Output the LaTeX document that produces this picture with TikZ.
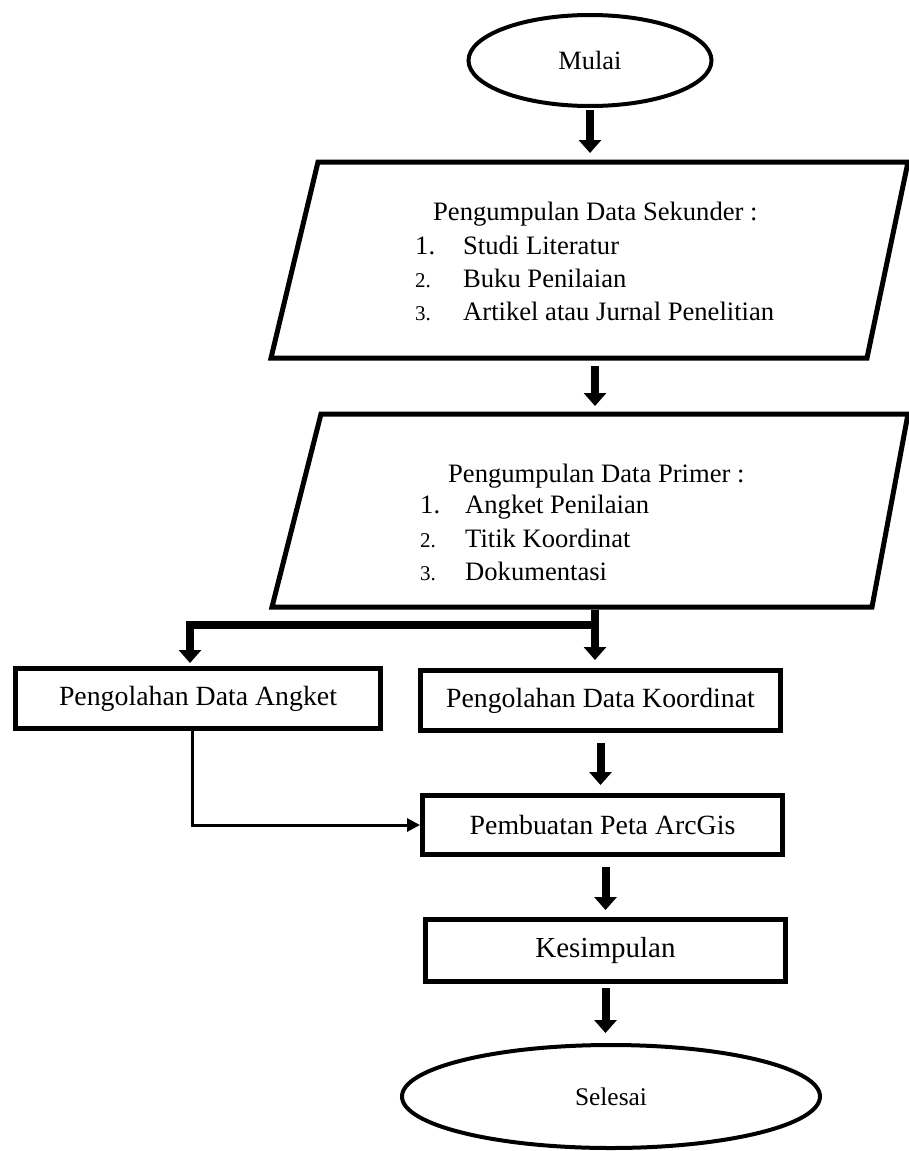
\documentclass[tikz,border=0pt]{standalone}
\usepackage{fontspec}
\setmainfont{Liberation Serif}
\usetikzlibrary{shapes.geometric,arrows.meta,calc}
\newcommand{\fs}[1]{\fontsize{#1}{#1}\selectfont}
\begin{document}
\begin{tikzpicture}[x=1pt,y=-1pt,
  flowbox/.style={draw,line width=5pt,rectangle,inner sep=0pt,font=\fs{27.8}},
  term/.style={draw,line width=4pt,ellipse,inner sep=0pt,font=\fs{26.4}},
  paraline/.style={line width=5pt,line join=miter},
  bigarrow/.style={line width=8pt,-{Triangle[width=22pt,length=13pt]}},
  bigline/.style={line width=6pt},
  smallarrow/.style={line width=3pt,-{Triangle[width=13pt,length=13pt]}},
  txt/.style={inner sep=0pt,anchor=base west,font=\fs{26.6}},
  num/.style={inner sep=0pt,anchor=base west,font=\fs{21}}]
\useasboundingbox (0,0) rectangle (909,1151);

% start
\node[term,minimum width=243pt,minimum height=91pt] (mulai) at (590,60.5) {Mulai};

% parallelogram 1
\coordinate (p1tl) at (318,162);
\coordinate (p1tr) at (908,162);
\coordinate (p1br) at (867,358);
\coordinate (p1bl) at (271,358);
\draw[paraline] (p1tl) -- (p1tr) -- (p1br) -- (p1bl) -- cycle;
\coordinate (p1top) at (590,162);
\coordinate (p1bot) at (595,358);
\node[txt] (s0) at (433,220) {Pengumpulan Data Sekunder :};
\node[txt] (s1n) at (415,254) {1.};
\node[txt] (s1) at (463,254) {Studi Literatur};
\node[num] (s2n) at (415,287) {2.};
\node[txt] (s2) at (463,287) {Buku Penilaian};
\node[num] (s3n) at (415,320) {3.};
\node[txt] (s3) at (463,320) {Artikel atau Jurnal Penelitian};

% parallelogram 2
\coordinate (p2tl) at (321,414);
\coordinate (p2tr) at (908,414);
\coordinate (p2br) at (872,607);
\coordinate (p2bl) at (272,607);
\draw[paraline] (p2tl) -- (p2tr) -- (p2br) -- (p2bl) -- cycle;
\coordinate (p2top) at (595,414);
\coordinate (p2bot) at (595,607);
\node[txt] (t0) at (448,482) {Pengumpulan Data Primer :};
\node[txt] (t1n) at (420,513) {1.};
\node[txt] (t1) at (465,513) {Angket Penilaian};
\node[num] (t2n) at (420,547) {2.};
\node[txt] (t2) at (465,547) {Titik Koordinat};
\node[num] (t3n) at (420,580) {3.};
\node[txt] (t3) at (465,580) {Dokumentasi};

% boxes
\node[flowbox,minimum width=365pt,minimum height=60pt] (angket) at (198,698.5) {Pengolahan Data Angket};
\node[flowbox,minimum width=360pt,minimum height=60pt] (koord) at (600.5,700.5) {Pengolahan Data Koordinat};
\node[flowbox,minimum width=360pt,minimum height=59pt] (peta) at (602.5,825) {Pembuatan Peta ArcGis};
\node[flowbox,minimum width=360pt,minimum height=62pt,font=\fs{29}] (kes) at (605.5,950.5) {Kesimpulan};
\node[term,minimum width=418pt,minimum height=103pt,font=\fs{25.4}] (selesai) at (611,1096.5) {Selesai};

% connectors
\draw[bigarrow,shorten <=2pt,shorten >=9pt] (mulai.south) -- (p1top);
\draw[bigarrow,shorten <=8pt,shorten >=8pt] (p1bot) -- (p2top);
\coordinate (br) at (595,625);
\draw[bigarrow,shorten <=3pt,shorten >=8pt] (p2bot) -- (p2bot |- koord.north);
\draw[bigline] (br) -- (190,625);
\draw[bigarrow,shorten >=3pt] ($(br)+(3,0)$) -| ([xshift=-8pt]angket.north);
\draw[bigarrow,shorten <=10pt,shorten >=8pt] (koord.south) -- (koord.south |- peta.north);
\draw[smallarrow,line join=miter] ([xshift=-6pt]angket.south) |- (peta.west);
\draw[bigarrow,shorten <=10pt,shorten >=7pt] (kes.north |- peta.south) -- (kes.north);
\draw[bigarrow,shorten <=4pt,shorten >=10pt] (kes.south) -- (kes.south |- selesai.north);
\end{tikzpicture}
\end{document}
